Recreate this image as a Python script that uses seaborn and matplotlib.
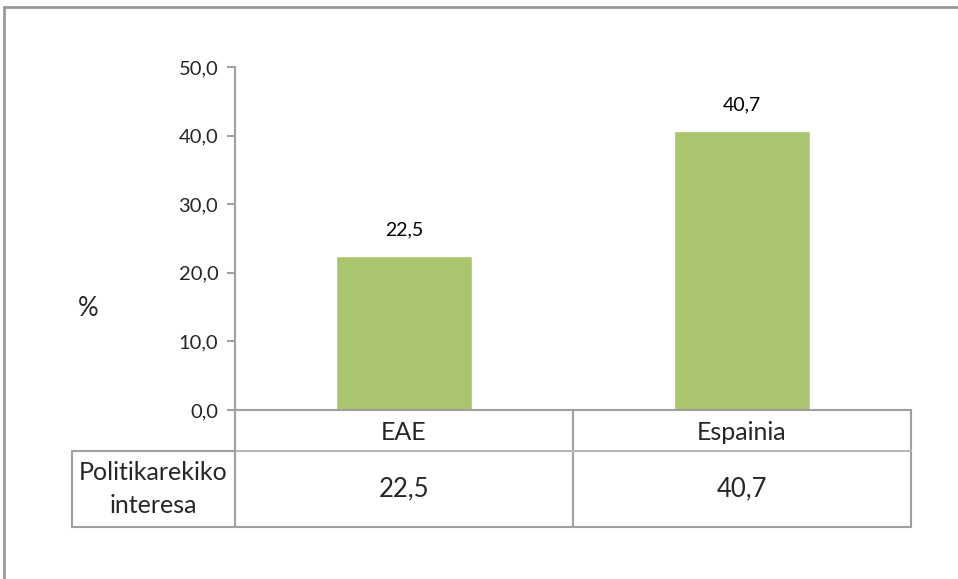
import matplotlib
matplotlib.use('Agg')
import matplotlib.pyplot as plt
import matplotlib.transforms as mtrans
from matplotlib.lines import Line2D
from matplotlib.ticker import FuncFormatter
import pandas as pd
import seaborn as sns

categories = ['EAE', 'Espainia']
values = [22.5, 40.7]
row_label = 'Politikarekiko\ninteresa'
y_ticks = [0, 10, 20, 30, 40, 50]

sns.set_style('white')
plt.rcParams['font.family'] = ['Lato', 'DejaVu Sans']

W, H = 958, 579
fig = plt.figure(figsize=(W / 100, H / 100), dpi=100)
ax = fig.add_axes([235 / W, 1 - 410 / H, (911 - 235) / W, (410 - 67) / H])

df = pd.DataFrame({'region': categories, 'value': values})
sns.barplot(data=df, x='region', y='value', color='#A9C56D', width=0.4,
            saturation=1, ax=ax)

def comma(v):
    return f'{v:.1f}'.replace('.', ',')

for i, v in enumerate(values):
    ax.annotate(comma(v), (i, v), xytext=(0, 26), textcoords='offset pixels',
                ha='center', va='center', fontsize=14, color='black')

grey = '#A0A0A0'
ax.set_xlim(-0.5, 1.5)
ax.set_ylim(0, 50)
ax.set_yticks(y_ticks)
ax.yaxis.set_major_formatter(FuncFormatter(lambda v, p: comma(v)))
ax.tick_params(axis='y', length=6, width=1.5, color=grey, labelsize=14.5, pad=6, left=True)
ax.set_xticks([])
ax.set_xlabel('')
ax.set_ylabel('')
for s in ['top', 'right']:
    ax.spines[s].set_visible(False)
for s in ['left', 'bottom']:
    ax.spines[s].set_color(grey)
    ax.spines[s].set_linewidth(1.5)

fig.text(78 / W, 1 - 308 / H, '%', fontsize=18.5, ha='left', va='center')

def line(x0, y0, x1, y1, c=grey, lw=1.5):
    fig.add_artist(Line2D([x0 / W, x1 / W], [1 - y0 / H, 1 - y1 / H], color=c, lw=lw))

# data table under the axis
line(235, 410, 235, 527)
line(573, 410, 573, 527)
line(911, 410, 911, 527)
line(235, 451, 911, 451, c='#B8B8B8')
line(72, 451, 235, 451)
line(72, 527, 911, 527)
line(72, 451, 72, 527)

tr = mtrans.blended_transform_factory(ax.transData, fig.transFigure)
for i, (c, v) in enumerate(zip(categories, values)):
    fig.text(i, 1 - 432 / H, c, transform=tr, ha='center', va='center', fontsize=18)
    fig.text(i, 1 - 489 / H, comma(v), transform=tr, ha='center', va='center', fontsize=18.5)
fig.text(153 / W, 1 - 489 / H, row_label, ha='center', va='center', fontsize=18,
         linespacing=1.55)

# outer chart border
line(4, 7, W + 5, 7, c='#999999', lw=2)
line(4, 7, 4, H + 5, c='#999999', lw=2)

fig.savefig('out.png', dpi=100)
